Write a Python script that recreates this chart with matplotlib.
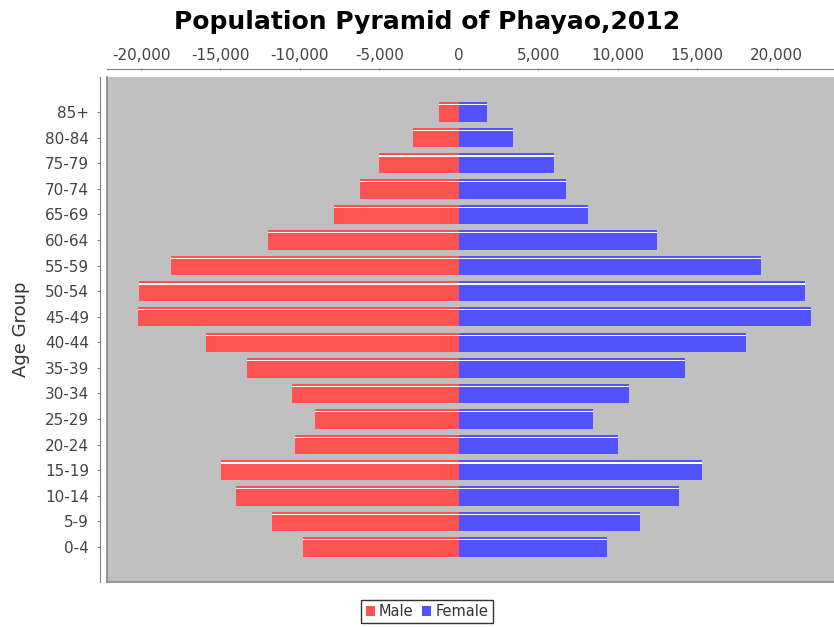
import matplotlib
matplotlib.use("Agg")
import matplotlib.pyplot as plt
from matplotlib.ticker import FuncFormatter, MultipleLocator
from matplotlib.patches import Patch
from matplotlib.lines import Line2D

age_groups = ['0-4', '5-9', '10-14', '15-19', '20-24', '25-29', '30-34', '35-39',
              '40-44', '45-49', '50-54', '55-59', '60-64', '65-69', '70-74', '75-79',
              '80-84', '85+']
male = [9790, 11730, 14040, 14940, 10340, 9035, 10470, 13300, 15890, 20170,
        20130, 18130, 11980, 7840, 6200, 5044, 2900, 1217]
female = [9330, 11390, 13870, 15320, 10020, 8425, 10700, 14230, 18070, 22150,
          21790, 19000, 12440, 8110, 6745, 5970, 3440, 1800]

plt.rcParams['font.family'] = ['DejaVu Sans']

W, H = 834, 627
fig = plt.figure(figsize=(W / 100, H / 100), dpi=100)
ax = fig.add_axes([107 / W, 45 / H, (W - 107) / W, 505 / H])
ax.set_facecolor('#C0C0C0')

ypos = list(range(len(age_groups)))
bh = 0.76
red = '#FF5252'
blue = '#5252FF'
ax.barh(ypos, [-m for m in male], height=bh, color=red, linewidth=0, zorder=2)
ax.barh(ypos, female, height=bh, color=blue, linewidth=0, zorder=2)
# highlight line near top of each bar (gradient painter look)
hl_off = bh / 2 - 0.1
ax.barh([y + hl_off for y in ypos], [-m for m in male], height=0.045,
        color='white', linewidth=0, zorder=3)
ax.barh([y + hl_off for y in ypos], female, height=0.045,
        color='white', linewidth=0, zorder=3)

ax.set_xlim(-22140, 23610)
ax.set_ylim(-1.37, 18.37)

ax.set_yticks(ypos)
ax.set_yticklabels(age_groups)
ax.xaxis.set_major_locator(MultipleLocator(5000))
ax.xaxis.set_major_formatter(FuncFormatter(lambda v, p: f"{int(round(v)):,}"))
ax.xaxis.tick_top()

tick_color = '#444444'
ax.tick_params(axis='x', colors='#808080', labelcolor=tick_color, labelsize=11,
               length=2, width=0.8, pad=3, direction='inout')
ax.tick_params(axis='y', colors='#808080', labelcolor=tick_color, labelsize=11,
               length=2, width=0.8, pad=6, direction='out')

for s in ['right', 'bottom']:
    ax.spines[s].set_visible(False)
ax.spines['top'].set_position(('outward', 6))
ax.spines['left'].set_position(('outward', 5))
ax.spines['top'].set_color('#808080')
ax.spines['left'].set_color('#808080')

# plot outline (left and bottom edges; right edge is cut off by the image)
ax.add_line(Line2D([0, 0], [0, 1], transform=ax.transAxes, color='#888888',
                   linewidth=1.2, zorder=5, clip_on=False))
ax.add_line(Line2D([0, 1], [0, 0], transform=ax.transAxes, color='#888888',
                   linewidth=1.2, zorder=5, clip_on=False))

fig.text(21 / W, 1 - 329.5 / H, 'Age Group', rotation=90, ha='center', va='center',
         fontsize=13, color='#333333')

fig.text(427 / W, 1 - 22 / H, 'Population Pyramid of Phayao,2012', ha='center',
         va='center', fontsize=18, fontweight='bold', color='black')

handles = [Patch(facecolor=red, edgecolor='none', label='Male'),
           Patch(facecolor=blue, edgecolor='none', label='Female')]
leg = fig.legend(handles=handles, loc='center', bbox_to_anchor=(427 / W, 1 - 611.5 / H),
                 ncol=2, fontsize=10.5, frameon=True, fancybox=False,
                 handlelength=0.6, handleheight=0.7, handletextpad=0.3,
                 columnspacing=0.6, borderpad=0.3, borderaxespad=0)
leg.get_frame().set_edgecolor('black')
leg.get_frame().set_linewidth(1.0)
for t in leg.get_texts():
    t.set_color('#333333')

fig.savefig('out.png', dpi=100, facecolor='white')
